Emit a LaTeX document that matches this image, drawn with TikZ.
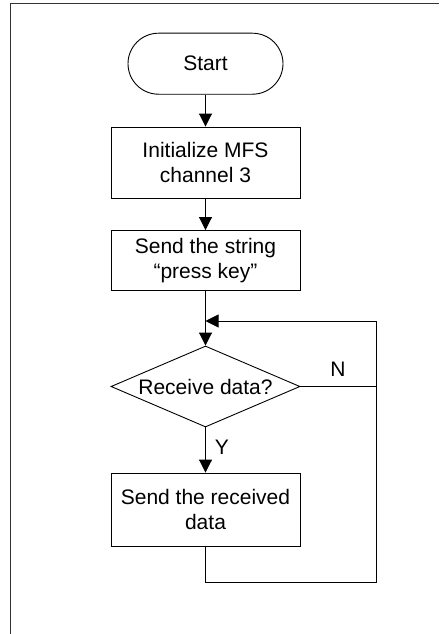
\documentclass[tikz,border=0pt]{standalone}
\usepackage{fontspec}
\setmainfont{Liberation Sans}
\usetikzlibrary{shapes.geometric,arrows.meta}
\begin{document}
\begin{tikzpicture}[x=1pt,y=-1pt,line width=0.9pt,
  txt/.style={font=\fontsize{21}{25}\selectfont},
  box/.style={txt,draw,rectangle,minimum width=189pt,inner sep=0pt,align=center},
  term/.style={txt,draw,rectangle,rounded corners=30.5pt,minimum width=155pt,minimum height=61pt,inner sep=0pt},
  dec/.style={txt,draw,diamond,minimum width=189pt,minimum height=81pt,inner sep=0pt},
  arr/.style={-{Triangle[length=13pt,width=13pt]}},
  frame/.style={line width=0.8pt,black!80}]
\useasboundingbox (0,0) rectangle (439,634);
\draw[frame] (10.5,634) -- (10.5,3.3) -- (439,3.3);
\node[term] (start) at (205.5,63.7) {Start};
\node[box,minimum height=71pt] (init) at (205.5,162.5) {Initialize MFS\\channel 3};
\node[box,minimum height=60pt] (send) at (205.5,260.5) {Send the string\\“press key”};
\node[dec] (ask) at (205.5,386.5) {\makebox[0pt]{Receive data?}};
\node[box,minimum height=73pt] (recv) at (205.5,509.5) {Send the received\\data};
\coordinate (m) at (205.5,321);
\coordinate (r1) at (376,321);
\coordinate (r2) at (376,582);
\node[txt] (ylab) at (222,447) {Y};
\node[txt] (nlab) at (338,369) {N};
\draw[arr] (start) -- (init);
\draw[arr] (init) -- (send);
\draw[arr] (send) -- (ask);
\draw[arr] (ask) -- (recv);
\draw[arr] (ask.east) -| (r1) -- (m);
\draw (recv.south) |- (r2) -- (r2 |- ask.east);
\end{tikzpicture}
\end{document}
